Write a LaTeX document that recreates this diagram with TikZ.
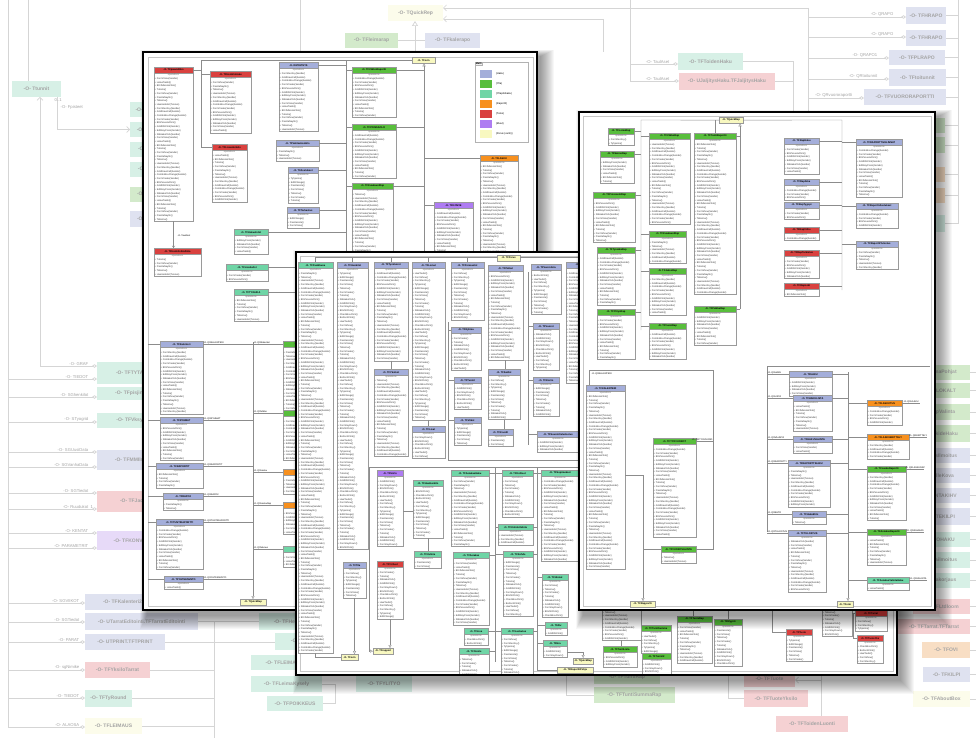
\documentclass[tikz,border=0pt]{standalone}
\usepackage{fontspec}
\setmainfont{Liberation Sans}
\usetikzlibrary{arrows.meta}

% class header colours
\definecolor{lav}{HTML}{A4AEDA}
\definecolor{grn}{HTML}{58BE3C}
\definecolor{mnt}{HTML}{6FD5A6}
\definecolor{org}{HTML}{F7901E}
\definecolor{rd}{HTML}{D9413F}
\definecolor{pur}{HTML}{AE7CF2}
\definecolor{yel}{HTML}{F8F8C0}
\definecolor{clsedge}{HTML}{9A9A9A}
\definecolor{clin}{HTML}{8C8C8C}
% faded colours of the large overview diagram
\definecolor{bmnt}{HTML}{D7F0E6}
\definecolor{bgrn}{HTML}{D3EACB}
\definecolor{blav}{HTML}{DFE2F0}
\definecolor{bpink}{HTML}{F5D1D3}
\definecolor{borg}{HTML}{F8DEC4}
\definecolor{bpur}{HTML}{E7DAF8}
\definecolor{byel}{HTML}{FCFCEB}
\definecolor{bgline}{HTML}{D5D5D5}
\definecolor{bgtext}{HTML}{A4A4A4}

\tikzset{
  bgbox/.style={inner sep=0pt, outer sep=0pt, anchor=north west, text=bgtext,
    font=\fontsize{5}{6}\selectfont\bfseries},
  bgl/.style={draw=bgline, line width=0.7pt},
  bgd/.style={bgl, -{Diamond[open, length=5pt, width=3.5pt]}},
  bgv/.style={bgl, -{Straight Barb[length=3pt, width=6pt]}},
  bglab/.style={text=bgtext, font=\fontsize{4.2}{5}\selectfont, inner sep=0.5pt},
  clshead/.style={draw=clsedge, line width=0.3pt, inner sep=0pt, outer sep=0pt,
    minimum height=6.5pt, font=\fontsize{2.5}{3}\selectfont\bfseries, anchor=north west},
  clsbody/.style={draw=clsedge, line width=0.3pt, fill=white, inner xsep=0pt,
    inner ysep=0.6pt, outer sep=0pt, text=black!80,
    font=\fontsize{2.4}{3.7}\selectfont, anchor=north west},
  ybox/.style={draw=clsedge, fill=yel, inner sep=0pt, line width=0.3pt,
    minimum height=6pt, font=\fontsize{2.5}{3}\selectfont\bfseries, anchor=north west},
  cl/.style={draw=clin, line width=0.35pt},
  inh/.style={cl, -{Triangle[open, length=3pt, width=3pt]}},
  clab/.style={font=\fontsize{2.3}{3}\selectfont, inner sep=0.3pt},
  panel/.style={draw=black, line width=2.4pt, fill=white, inner sep=0pt,
    outer sep=0pt, anchor=north west},
  frame/.style={draw=black!22, line width=0.4pt},
}

% method names listed under "operations": 0-15 short, 16-31 long
\newcommand\opname[1]{\ifcase#1\relax
  +~FormShow()\or +~FormCreate()\or +~Button1Click()\or +~FormClose()\or
  +~BtnOKClick()\or +~EditChange()\or +~GridDblClick()\or +~FormDestroy()\or
  +~Tulosta()\or +~HaeTiedot()\or +~Tallenna()\or +~CheckBoxClick()\or
  +~PaivitaLista()\or +~FormKeyDown()\or +~Tyhjenna()\or +~SBHakuClick()\or
  +~FormShow(Sender)\or +~FormCreate(Sender)\or +~BtnTallennaClick()\or
  +~GridDrawCell(Sender)\or +~FormClose(Sender)\or +~HaeHenkilot(Tunnus)\or
  +~EditKeyPress(Sender)\or +~PaivitaNaytto()\or +~BtnPeruutaClick()\or
  +~Tulosta()\or +~ComboBoxChange(Sender)\or +~LataaTiedot()\or
  +~FormDestroy(Sender)\or +~SBHakuClick(Sender)\or +~Tallenna()\or
  +~GridDblClick(Sender)\fi}

% body of a class box: the "operations" caption and #1 method lines
\newcommand\oplist[3]{\parindent=0pt\parskip=0pt\centering
  {\color{black!60}operations}\par\raggedright
  \foreach \ii in {1,...,#1}{%
    \pgfmathtruncatemacro\kk{mod(\ii*7+#2,16)+ifthenelse(#3>33,16,0)}%
    \hspace*{0.7pt}\opname{\kk}\par}}

% class box: name, x, y, width, lines, colour, title
\newcommand\cls[7]{%
  \node[clshead, fill=#6, minimum width=#4pt] (#1) at (#2,#3) {#7};
  \node[clsbody, text width=#4pt] (#1o) at (#1.south west) {\oplist{#5}{#2+#3}{#4}};}

% faded box of the overview diagram: name, x1, y1, x2, y2, colour, text
\newcommand\bgb[7]{%
  \pgfmathsetmacro\bw{#4-#2}\pgfmathsetmacro\bh{#5-#3}%
  \node[bgbox, fill=#6, minimum width=\bw pt, minimum height=\bh pt] (#1) at (#2,#3) {#7};}

% soft shadow falling to the lower right of a screenshot
\newcommand\pshade[4]{\foreach \kk in {1,...,14}{%
  \fill[black, opacity=0.032] ({#1+4-0.5*\kk},{#2+5-0.5*\kk}) rectangle ({#3+3+\kk},{#4+5+\kk});}}

\begin{document}
\begin{tikzpicture}[x=1pt, y=-1pt]
\useasboundingbox (0,0) rectangle (976,738);
\fill[white] (0,0) rectangle (976,738);

%================ overview diagram (background) ================
\bgb{bTtunnit}{12}{81}{61}{97}{bmnt}{-O- Ttunnit}
\bgb{bA1}{130}{102}{178}{117}{bmnt}{-O- TFHakulista}
\bgb{bA2}{130}{122}{178}{137}{bmnt}{-O- TFHenkilot}
\bgb{bA3}{130}{142}{178}{157}{bmnt}{-O- TFTyoajat}
\bgb{bA4}{130}{162}{178}{177}{bmnt}{-O- TFSijaiset}
\bgb{bA5}{130}{187}{178}{202}{bgrn}{-O- TFRaportit}
\bgb{bA6}{130}{211}{178}{227}{blav}{-O- TFValinnat}
\bgb{bTQR}{388}{5}{443}{21}{byel}{-O- TQuickRep}
\bgb{bLeima}{345}{33}{398}{48}{bgrn}{-O- TFleimarap}
\bgb{bKale}{425}{33}{480}{48}{blav}{-O- TFkalerapo}
\bgb{bToid}{678}{53}{743}{70}{bmnt}{-O- TFToidenHaku}
\bgb{bJalj}{679}{73}{775}{90}{bpink}{-O- UJaljitysHaku.TFJaljitysHaku}
\bgb{bHR1}{906}{7}{946}{24}{blav}{-O- TFHRAPO}
\bgb{bHR2}{906}{30}{946}{46}{blav}{-O- TFHRAPO}
\bgb{bPL}{889}{50}{945}{65}{blav}{-O- TFPLRAPO}
\bgb{bTT}{889}{69}{946}{86}{blav}{-O- TFtoitunnit}
\bgb{bVR}{864}{89}{946}{105}{blav}{-O- TFVUORORAPORTTI}
\bgb{bR1}{880}{118}{945}{133}{bgrn}{-O- TFLomaRap}
\bgb{bR2}{880}{137}{945}{153}{bgrn}{-O- TFSairasRap}
\bgb{bR3}{880}{167}{945}{182}{borg}{-O- TFVUOSILOMA}
\bgb{bR4}{880}{188}{945}{203}{borg}{-O- TFPALKKA}
\bgb{bR5}{880}{215}{945}{232}{bmnt}{-O- TFTyoVuoro}
\bgb{bS1}{900}{365}{970}{380}{bgrn}{-O- TFLomaPohjat}
\bgb{bS2}{900}{383}{970}{398}{bgrn}{-O- TFPOLOKALT}
\bgb{bS3}{900}{404}{970}{420}{bgrn}{-O- TFRapValinta}
\bgb{bS4}{900}{425}{970}{442}{bgrn}{-O- TFMerkideHaku}
\bgb{bS5}{900}{448}{970}{463}{blav}{-O- TFPoisIlmoitus}
\bgb{bS6}{900}{468}{970}{483}{blav}{-O- TFTalleKova}
\bgb{bS7}{900}{488}{970}{503}{blav}{-O- TFKENTAKIHV}
\bgb{bS8}{900}{508}{970}{525}{blav}{-O- TFPLTEKILPI}
\bgb{bS9}{900}{532}{970}{547}{bmnt}{-O- TFTYOHAKU}
\bgb{bS10}{900}{552}{970}{568}{bmnt}{-O- TFVikailmoitus}
\bgb{bS11}{900}{573}{970}{588}{bmnt}{-O- TFVikakorjaus}
\bgb{bS12}{913}{599}{970}{614}{bpink}{-O- TFLtdloom}
\bgb{bS13}{898}{619}{970}{634}{bpink}{-O- TFTarrat.TFTarrat}
\bgb{bS14}{922}{642}{970}{658}{borg}{-O- TFOVI}
\bgb{bS15}{923}{667}{970}{682}{blav}{-O- TFKILPI}
\bgb{bS16}{913}{691}{970}{707}{byel}{-O- TFAboutBox}
\bgb{bTYT}{97}{362}{175}{384}{bmnt}{-O- TFTYTARIFFI}
\bgb{bPIS}{97}{387}{175}{400}{bmnt}{-O- TFpisjinlisays}
\bgb{bVKS}{97}{413}{175}{428}{bmnt}{-O- TFVksylinkki}
\bgb{bMMI}{97}{450}{175}{470}{blav}{-O- TFMMIlmoitus}
\bgb{bJAQ}{97}{491}{175}{512}{bpink}{-O- TFJaqitys}
\bgb{bKON}{97}{531}{175}{550}{bpur}{-O- TFKONVERSIO}
\bgb{bKAL}{85}{594}{160}{610}{blav}{-O- TFKalenteri2}
\bgb{bUTE}{85}{613}{198}{630}{blav}{-O- UTarratEditointi.TFTarratEditointi}
\bgb{bUTP}{85}{634}{165}{650}{blav}{-O- UTPRINT.TFTPRINT}
\bgb{bYKS}{85}{662}{150}{678}{bpink}{-O- TFYksiloTarrat}
\bgb{bTYR}{85}{690}{132}{707}{bmnt}{-O- TFTyRound}
\bgb{bLEI}{85}{718}{142}{734}{byel}{-O- TFLEIMAUS}
\bgb{bHEN}{259}{613}{335}{630}{bmnt}{-O- TFHenkilotiedot}
\bgb{bTL}{275}{633}{340}{650}{bmnt}{-O- TFTyolista}
\bgb{bLKY}{251}{655}{330}{670}{bmnt}{-O- TFLEIMAKYSELY}
\bgb{bLK}{251}{676}{322}{692}{bmnt}{-O- TFLeimaKysely}
\bgb{bPOI}{267}{696}{323}{711}{bmnt}{-O- TFPOIKKEUS}
\bgb{bYLI}{356}{676}{412}{692}{bmnt}{-O- TFYLITYO}
\bgb{bTR}{594}{671}{660}{684}{bgrn}{-O- TFTuntiRap}
\bgb{bTSR}{594}{687}{675}{703}{bgrn}{-O- TFTuntiSummaRap}
\bgb{bTUO}{744}{671}{795}{687}{bpink}{-O- TFTuote}
\bgb{bTY}{744}{690}{808}{707}{bpink}{-O- TFTuoteYksilo}
\bgb{bTLU}{776}{716}{848}{732}{bpink}{-O- TFToidenLuonti}

% left trunk and its aggregations
\draw[bgl] (8,0) -- (8,727);
\draw[bgl] (28,0) -- (bTtunnit.north -| 28,0);
\draw[bgv] (40,366) -- (bTtunnit.south -| 40,0);
\draw[bgd] (40,366) -- (bTYT.west |- 0,366);
\node[bglab, anchor=south east] (lGRAF) at (89,366) {-O- GRAF};
\draw[bgv] (bTtunnit.south -| 57,0) |- (bA2.west);
\node[bglab, anchor=north west] (lMul) at (54,98) {0..1};
\node[bglab, anchor=north west] (lFp) at (60,105) {-O- Fpisteet};
\foreach \yy/\lab/\tgt/\lx [count=\jj] in {379/TIEDOT/bTYT/89, 397/SGhenkilot/bPIS/89,
    422/STyogrid/bVKS/89, 452/SGUusiData/bMMI/89, 467/SGVanhaData/bMMI/89,
    493/SGTiedot/bJAQ/89, 509/Ruudukot/bJAQ/89, 533/KENTAT/bKON/89,
    548/PARAMETRIT/bKON/89, 603/SGVIIKOT/bKAL/80, 622/SGTiedot/bUTE/80,
    642/PARAT/bUTP/80, 670/sgNimike/bYKS/80, 698/TIEDOT/bTYR/80, 727/ALAOSA/bLEI/80}{
  \draw[bgd] (8,\yy) -- (\tgt.west |- 0,\yy);
  \node[bglab, anchor=south east] (lL\jj) at (\lx,\yy) {-O- \lab};
}
\node[bglab, anchor=south west] (lOne) at (90,509) {1};

% top: TQuickRep and report forms
\draw[bgv] (808,8) -- (bTQR.east |- 0,8);
\draw[bgv] (603,19) -- (bTQR.east |- 0,19);
\draw[bgl] (603,19) -- (603,52);
\draw[bgl] (808,8) -- (808,112);
\draw[bgl, -{Triangle[open, length=5pt, width=6pt]}] (415,52) -- (bTQR.south -| 415,0);
\draw[bgl] (bLeima.east) -- (bKale.west);
\draw[bgl] (300,0) -- (300,52);
\draw[bgl] (630,0) -- (630,81);
\draw[bgd] (630,64) -- (bToid.west |- 0,64);
\draw[bgd] (630,81) -- (bJalj.west |- 0,81);
\node[bglab, anchor=south east] (lTA1) at (670,64) {-O- TaulAset};
\node[bglab, anchor=south east] (lTA2) at (670,81) {-O- TaulAset};
\draw[bgl] (bToid.east) -| (793,112);
\draw[bgl] (bJalj.east) -- (bJalj.east -| 793,0);
\foreach \yy/\lab/\tgt/\lx [count=\jj] in {17/QRAPO/bHR1/894, 37/QRAPO/bHR2/894,
    58/QRAPO1/bPL/878, 79/QRtoitunnit/bTT/878, 98/QRvuororaportti/bVR/853}{
  \draw[bgd] (808,\yy) -- (\tgt.west |- 0,\yy);
  \node[bglab, anchor=south east] (lQ\jj) at (\lx,\yy) {-O- \lab};
}
\draw[bgl] (958,0) -- (958,224);
\foreach \bb in {bHR1,bHR2,bPL,bTT,bVR,bR1,bR2,bR3,bR4,bR5}{\draw[bgl] (\bb.east) -- (\bb.east -| 958,0);}
\foreach \bb in {bS1,bS2,bS3,bS4,bS5,bS6,bS7,bS8,bS9,bS10,bS11,bS12,bS13,bS14,bS15,bS16}{\draw[bgl] (\bb.east) -- ++(6,0);}

% bottom connectors
\draw[bgl] (214,622) -- (214,738);
\draw[bgl] (bUTE.east) -- (bUTE.east -| bHEN.west);
\draw[bgl] (bUTP.east) -- (bUTP.east -| bTL.west);
\foreach \bb in {bYKS,bTYR,bLEI}{\draw[bgl] (\bb.east) -- (\bb.east -| 214,0);}
\draw[bgl] (bLK.east) -- ++(13,0) |- (bPOI.east);
\draw[bgl] (566,672) |- (bTSR.west);
\draw[bgl] (728,672) |- (bTY.west);
\draw[bgl] (821,672) -- (bTLU.north -| 821,0);
\draw[bgv] (821,680) -- (bTUO.east |- 0,680);

%================ screenshot 1 (upper left) ================
\pshade{143}{52}{537}{610}
\node[panel, minimum width=394pt, minimum height=558pt] (pan1) at (143,52) {};
\begin{scope}
\clip (145,54) rectangle (535,608);
\draw[frame] (148,57) rectangle (533,606);
\node[ybox, minimum width=23pt] (p1form) at (412,57) {-O- TForm};
\cls{p1a}{154}{67}{39}{39}{rd}{-O- TFpaavalikko}
\cls{p1b}{210}{71}{41}{14}{rd}{-O- TFHenkiloHaku}
\cls{p1c}{212}{144}{35}{13}{rd}{-O- TFLisaaHenkilo}
\cls{p1d}{279}{62}{39}{16}{lav}{-O- DMYHTEYS}
\cls{p1e}{276}{140}{43}{3}{lav}{-O- TFValitseHenkilo}
\cls{p1f}{288}{167}{30}{7}{lav}{-O- TFAsetukset}
\cls{p1g}{287}{207}{32}{3}{lav}{-O- TFTarkastus}
\cls{p1h}{352}{67}{44}{11}{grn}{-O- TFViikkoRaportti}
\cls{p1i}{352}{124}{44}{12}{grn}{-O- TFPOISSAOLO}
\cls{p1j}{352}{183}{41}{20}{grn}{-O- TFKuukausiRap}
\cls{p1k}{480}{155}{38}{26}{org}{-O- TFLASKU}
\cls{p1l}{434}{202}{39}{14}{pur}{-O- TFKONVE}
\cls{p1m}{234}{229}{34}{4}{mnt}{-O- TFHakuehdot}
\cls{p1n}{226}{264}{42}{2}{mnt}{-O- TFLisatiedot}
\cls{p1o}{234}{289}{34}{6}{mnt}{-O- TFTYOAIKA}
\cls{p1p}{154}{248}{47}{5}{rd}{-O- TFHenkilotHallinta}
\cls{p1q}{160}{341}{43}{17}{lav}{-O- TFKalenteri}
\cls{p1r}{160}{417}{43}{9}{lav}{-O- TFRYHMAT}
\cls{p1s}{156}{463}{47}{4}{lav}{-O- TFRAPORTIT}
\cls{p1t}{163}{493}{40}{2}{lav}{-O- TFRAPO2}
\cls{p1u}{156}{519}{47}{11}{lav}{-O- TFTUNTIRAPORTTI}
\cls{p1v}{164}{576}{39}{1}{lav}{-O- TFYHTEENVETO}
\cls{p1w}{283}{341}{46}{16}{grn}{-O- TFKalenteriRap}
\cls{p1x}{283}{410}{46}{11}{grn}{-O- TFViikkoLista}
\cls{p1y}{283}{469}{46}{4}{org}{-O- TFLaskuLista}
\cls{p1z}{283}{502}{46}{6}{org}{-O- TFLaskuRap}
\cls{p1aa}{283}{546}{46}{3}{mnt}{-O- TFVaraus}
\node[ybox, minimum width=26pt] (p1qr) at (240,599) {-O- TQuickRep};
% legend
\node[draw=black!30, fill=white, line width=0.3pt, minimum width=53pt, minimum height=80pt,
  anchor=north west, inner sep=0pt] (lgd) at (475,62) {};
\node[font=\fontsize{2.6}{3}\selectfont\bfseries, anchor=north west, inner sep=0.6pt,
  draw=black!30, line width=0.3pt, fill=black!6] (lgdt) at (lgd.north west) {Malli};
\foreach \cc/\tx [count=\jj] in {lav/(Haku), grn/(Ylla), mnt/(Yllapitohaku), org/(Raportit),
    rd/(Tulos), pur/(Muut), yel/(Perus (vanh))}{
  \node[fill=\cc, minimum width=12pt, minimum height=8pt, inner sep=0pt, anchor=north west]
    (lgs\jj) at (480,{70+10*(\jj-1)}) {};
  \node[anchor=west, font=\fontsize{2.6}{3}\selectfont, inner sep=0.5pt]
    (lgl\jj) at ([xshift=3pt]lgs\jj.east) {\tx};
}
% connectors
\draw[cl] (p1form.west) -- ++(-211,0) |- (p1c.west);
\draw[cl] (p1a.east) -- ++(8,0) |- (p1b.west);
\coordinate (p1v1) at (346,61);
\coordinate (p1v1e) at (346,252);
\draw[cl] (p1v1) -- (p1v1e);
\foreach \nm in {p1d,p1e,p1f,p1g,p1m,p1n,p1o}{\draw[cl] (\nm.east) -- (\nm.east -| p1v1);}
\foreach \nm in {p1h,p1i,p1j}{\draw[cl] (\nm.west -| p1v1) -- (\nm.west);}
\coordinate (p1v2) at (424,252);
\draw[inh] (p1v2) -- (p1v2 |- p1form.south);
\foreach \nm in {p1h,p1i,p1j}{\draw[cl] (\nm.east) -- (\nm.east -| p1v2);}
\foreach \nm in {p1k,p1l}{\draw[cl] (\nm.west -| p1v2) -- (\nm.west);}
\draw[cl, -{Straight Barb[length=2pt, width=3pt]}] (p1ao.south) -- (p1ao.south |- p1p.north);
\node[clab, anchor=west] (p1tl) at (177,236) {-O- TaulAset};
\foreach \nm in {p1q,p1r,p1s,p1t,p1u,p1v}{\draw[cl] (\nm.west -| 148,0) -- (\nm.west);}
\coordinate (p1v3) at (253,342);
\draw[inh] (p1v3) -- (p1v3 |- p1qr.north);
\foreach \nm/\tx in {p1q/QRKALENTERI, p1r/QRRYHMAT, p1s/QRRAPORTIT, p1t/QRRAPO2,
    p1u/QRTUNTIRAPORTTI, p1v/QRYHTEENVETO}{
  \draw[cl] (\nm.east) -- (\nm.east -| p1v3);
  \node[clab, anchor=south west] (m\nm) at (\nm.east) {-O- \tx};
}
\foreach \nm/\tx in {p1w/QRKalenteri, p1x/QRViikko, p1y/QRLasku, p1z/QRLaskuRap, p1aa/QRVaraus}{
  \draw[cl] (\nm.west -| p1v3) -- (\nm.west);
  \node[clab, anchor=south west] (m\nm) at (\nm.west -| p1v3) {-O- \tx};
}
\end{scope}

%================ screenshot 2 (centre) ================
\pshade{296}{252}{897}{675}
\node[panel, minimum width=601pt, minimum height=423pt] (pan2) at (296,252) {};
\begin{scope}
\clip (298,254) rectangle (895,673);
\draw[frame] (300,256) rectangle (893,671);
\cls{qc1}{298}{262}{35}{103}{mnt}{-O- TFPaaIkkuna}
\cls{qc2}{337}{262}{31}{75}{lav}{-O- TFHenkilot}
\cls{qc3}{374}{262}{34}{24}{lav}{-O- TFTyoVuorot}
\cls{qc4}{412}{262}{33}{40}{lav}{-O- TFLomat}
\cls{qc5}{451}{262}{33}{13}{lav}{-O- TFPoissaolot}
\cls{qc6}{488}{265}{35}{23}{lav}{-O- TFPalkat}
\cls{qc7}{531}{264}{30}{11}{lav}{-O- TFVuorolista}
\cls{qc8}{566}{262}{40}{30}{lav}{-O- TFSijaisuudet}
\cls{qc3b}{374}{369}{34}{21}{lav}{-O- TFYksikot}
\cls{qc5b}{451}{327}{30}{9}{lav}{-O- TFRyhma}
\cls{qc5c}{454}{377}{27}{6}{lav}{-O- TFTunnit}
\cls{qc5d}{454}{417}{27}{5}{lav}{-O- TFViikot}
\cls{qc4b}{412}{426}{33}{6}{lav}{-O- TFLisat}
\cls{qc6b}{488}{369}{32}{11}{lav}{-O- TFSaldot}
\cls{qc6c}{488}{429}{25}{2}{lav}{-O- TFKoodit}
\cls{qc7b}{533}{323}{26}{10}{lav}{-O- TFVuorot}
\cls{qc7c}{533}{377}{26}{8}{lav}{-O- TFKierto}
\cls{qc7d}{537}{431}{42}{3}{lav}{-O- TFSuunnitteluAsetus}
\cls{qd1}{377}{470}{26}{18}{pur}{-O- TFSiirto}
\cls{qd2}{413}{480}{30}{13}{mnt}{-O- TFHaeHenkilo}
\cls{qd3}{414}{551}{27}{2}{mnt}{-O- TFValinta}
\cls{qd4}{343}{562}{23}{7}{lav}{-O- TFTila}
\cls{qd5}{377}{561}{26}{13}{rd}{-O- TFVirheet}
\cls{qd6}{451}{470}{38}{18}{mnt}{-O- TFAsiakasHaku}
\cls{qd7}{453}{552}{36}{17}{mnt}{-O- TFAsiakas}
\cls{qd8}{464}{628}{24}{2}{mnt}{-O- TFLisa}
\cls{qd9}{459}{648}{30}{6}{mnt}{-O- TFOsoite}
\cls{qd10}{502}{470}{31}{10}{mnt}{-O- TFKohteet}
\cls{qd11}{498}{524}{35}{3}{mnt}{-O- TFKohdeValinta}
\cls{qd12}{503}{551}{30}{15}{mnt}{-O- TFKohde}
\cls{qd13}{501}{628}{32}{10}{mnt}{-O- TFLaskutus}
\cls{qd14}{541}{470}{38}{22}{mnt}{-O- TFSopimukset}
\cls{qd15}{542}{574}{26}{9}{mnt}{-O- TFHinnat}
\cls{qd16}{545}{622}{22}{1}{mnt}{-O- TFAlv}
\cls{qd17}{543}{640}{24}{2}{mnt}{-O- TFEra}
\cls{qe1}{602}{560}{39}{19}{lav}{-O- TFTuntiHaku}
\cls{qe2}{603}{646}{34}{3}{grn}{-O- TFTuntiLista}
\cls{qe3}{641}{625}{30}{5}{grn}{-O- TFTuntiSumma}
\cls{qe4}{642}{653}{29}{4}{grn}{-O- TFTunnit2}
\cls{qe5}{676}{560}{34}{11}{lav}{-O- TFTuoteHaku}
\cls{qe5b}{714}{560}{29}{11}{lav}{-O- TFMyyntiHaku}
\cls{qe6}{677}{616}{35}{10}{grn}{-O- TFTuoteRap}
\cls{qe7}{714}{619}{28}{10}{grn}{-O- TFMyynti}
\cls{qe8}{786}{629}{26}{6}{rd}{-O- TFTuote}
\cls{qe9}{822}{560}{30}{18}{lav}{-O- TFTarraHaku}
\cls{qe10}{855}{610}{32}{3}{rd}{-O- TFTarrat}
\cls{qe11}{857}{635}{26}{5}{rd}{-O- TFTuoteYks}
\node[ybox, minimum width=23pt] (qbase) at (497,254.5) {-O- TFPerus};
\node[ybox, minimum width=17pt] (qfrm) at (341,654) {-O- TForm};
\node[ybox, minimum width=20pt] (qrap) at (373,648) {-O- TFrapport};
\node[ybox, minimum width=20pt] (qqr) at (573,658) {-O- TQuickRep};
\node[ybox, minimum width=36pt] (qrp) at (557,667) {-O- TFRaporttiPohja};
% connectors
\draw[cl] (qc1.north) |- (qbase.west);
\foreach \nm in {qc2,qc3,qc4,qc5}{\draw[cl] (\nm.north) -- (\nm.north |- qbase.west);}
\draw[cl] (qbase.east) -| (qc8.north);
\draw[cl] (qc3o.south) -- (qc3o.south |- qc3b.north);
\draw[cl] (qc4o.south) -- (qc4o.south |- qc4b.north);
\draw[cl] (qc6o.south) -- (qc6o.south |- qc6b.north);
\draw[cl] (qc6bo.south) -- (qc6bo.south |- qc6c.north);
\coordinate (qv1) at (448,322);
\coordinate (qv1e) at (448,460);
\coordinate (qh1e) at (580,460);
\draw[cl] (qv1) -- (qv1e) -- (qh1e);
\foreach \nm in {qc5b,qc5c,qc5d}{\draw[cl] (\nm.west -| qv1) -- (\nm.west);}
\coordinate (qv2) at (528,272);
\coordinate (qv2e) at (528,445);
\draw[cl] (qv2) -- (qv2e);
\foreach \nm in {qc7b,qc7c,qc7d}{\draw[cl] (\nm.west -| qv2) -- (\nm.west);}
\coordinate (qh2) at (369,467);
\coordinate (qh2e) at (580,467);
\draw[cl] (qh2) -- (qh2e);
\draw[inh] (qh2) |- (qrap.west);
\draw[cl] (qd1o.east) -- (qd1o.east -| qd2.west);
\draw[cl] (qd2o.south) -- (qd2o.south |- qd3.north);
\draw[inh] (qd4o.south) -- (qd4o.south |- qfrm.north);
\draw[cl] (qc1o.south) |- (qfrm.west);
\draw[inh] (qd5o.south) -- (qd5o.south |- qrap.north);
\coordinate (qv3) at (495,467);
\coordinate (qv3e) at (495,662);
\draw[cl] (qv3) -- (qv3e);
\foreach \nm in {qd6,qd7,qd8,qd9}{\draw[cl] (\nm.east) -- (\nm.east -| qv3);}
\foreach \nm in {qd10,qd11,qd12,qd13}{\draw[cl] (\nm.west -| qv3) -- (\nm.west);}
\coordinate (qv4) at (537,467);
\coordinate (qv4e) at (537,655);
\draw[cl] (qv4) -- (qv4e);
\foreach \nm in {qd10,qd11,qd12,qd13}{\draw[cl] (\nm.east) -- (\nm.east -| qv4);}
\foreach \nm in {qd14,qd15,qd16,qd17}{\draw[cl] (\nm.west -| qv4) -- (\nm.west);}
\draw[inh] (qd17o.east) -| (qqr.north);
\draw[cl] (qv4e) |- (qrp.west);
\draw[cl] (qe1o.south) -- (qe1o.south |- qe2.north);
\draw[cl] (qe3o.south) -- (qe3o.south |- qe4.north);
\draw[cl] (qe5o.south) -- (qe5o.south |- qe6.north);
\draw[cl] (qe5bo.south) -- (qe5bo.south |- qe7.north);
\draw[cl] (qe8.west) -- ++(-14,0) -- ++(0,-30);
\draw[cl] (qe9o.east |- qe10.west) -- (qe10.west);
\draw[cl] ([xshift=-2pt]qe10.west) |- (qe11.west);
\end{scope}

%================ screenshot 3 (right) ================
\pshade{579}{112}{935}{610}
\node[panel, minimum width=356pt, minimum height=498pt] (pan3) at (579,112) {};
\begin{scope}
\clip (581,114) rectangle (933,608);
\draw[frame] (583,116) rectangle (931,606);
\cls{rG1}{608}{128}{26}{2}{grn}{-O- TFLomaRap}
\cls{rG2}{600}{151}{34}{6}{grn}{-O- TFSairasRap}
\cls{rG3}{593}{192}{42}{11}{grn}{-O- TFPoissaoloRap}
\cls{rG4}{597}{247}{38}{13}{grn}{-O- TFTyoaikaRap}
\cls{rG5}{597}{309}{38}{11}{grn}{-O- TFYlityoRap}
\cls{rG6}{649}{133}{41}{22}{grn}{-O- TFViikkoRap}
\cls{rG7}{649}{231}{37}{6}{grn}{-O- TFKuukausiRap}
\cls{rG8}{649}{268}{37}{10}{grn}{-O- TFJaksoRap}
\cls{rG9}{649}{323}{37}{7}{grn}{-O- TFVuosiRap}
\cls{rG10}{694}{133}{42}{41}{grn}{-O- TFTuntiRaportti}
\cls{rG11}{694}{306}{42}{8}{grn}{-O- TFPalkkaRap}
\cls{rL1}{784}{138}{35}{7}{lav}{-O- TFRapHaku}
\cls{rL2}{784}{179}{35}{3}{lav}{-O- TFRapAika}
\cls{rL3}{784}{202}{35}{2}{lav}{-O- TFRapTyyppi}
\cls{rR1}{784}{227}{35}{1}{rd}{-O- TFRapVirhe}
\cls{rR2}{784}{250}{35}{5}{rd}{-O- TFRapTarkistus}
\cls{rR3}{784}{283}{35}{1}{rd}{-O- TFRapLoki}
\cls{rL4}{856}{139}{46}{13}{lav}{-O- TFRAPORTTIVALINNAT}
\cls{rL5}{856}{203}{42}{4}{lav}{-O- TFRaporttiAsetukset}
\cls{rL6}{856}{241}{42}{5}{lav}{-O- TFRaporttiTulostus}
\cls{rB1}{586}{385}{39}{47}{lav}{-O- TFKALENTERI}
\cls{rB2}{653}{438}{43}{24}{grn}{-O- TFTYOVUOROT}
\cls{rB3}{661}{546}{35}{2}{grn}{-O- TFVUOROVALINTA}
\cls{rC1}{789}{371}{43}{4}{lav}{-O- TFHAKU}
\cls{rC2}{793}{395}{39}{7}{lav}{-O- TFHAKULISTA}
\cls{rC3}{793}{436}{39}{2}{lav}{-O- TFHAKUVALINTA}
\cls{rC4}{788}{460}{42}{10}{lav}{-O- TFRAPORTTIHAKU}
\cls{rC5}{792}{511}{34}{1}{lav}{-O- TFHakuEhto}
\cls{rC6}{788}{530}{38}{14}{lav}{-O- TFTULOSTUS}
\cls{rO1}{867}{400}{35}{4}{org}{-O- TFLASKUTUS}
\cls{rO2}{867}{434}{42}{4}{org}{-O- TFLASKUERITTELY}
\cls{rM1}{867}{466}{39}{12}{grn}{-O- TFLaskuRaportti}
\cls{rM2}{867}{529}{39}{7}{grn}{-O- TFAsiakasRaportti}
\cls{rM3}{867}{577}{42}{1}{mnt}{-O- TFAsiakasValintaHaku}
\node[ybox, minimum width=24pt] (rqr) at (719,117) {-O- TQuickRep};
\node[ybox, minimum width=25pt] (rrap) at (630,601) {-O- TFRapportti};
\node[ybox, minimum width=16pt] (rfrm) at (837,601) {-O- TForm};
% connectors
\coordinate (rb1) at (641,120);
\coordinate (rb1e) at (641,330);
\draw[cl] (rqr.west) -- (rb1) -- (rb1e);
\foreach \nm in {rG1,rG2,rG3,rG4,rG5}{\draw[cl] (\nm.east) -- (\nm.east -| rb1);}
\foreach \nm in {rG6,rG7,rG8,rG9}{\draw[cl] (\nm.west -| rb1) -- (\nm.west);}
\draw[cl] (rG10.north) -- (rG10.north |- rqr.west);
\coordinate (rb2) at (740,309);
\draw[inh] (rb2) -- (rb2 |- rqr.south);
\draw[cl] (rG11.east) -- (rG11.east -| rb2);
\draw[cl] (rG10.east) -- (rG10.east -| rb2);
\coordinate (rb3) at (842,120);
\coordinate (rb3e) at (842,290);
\draw[cl] (rqr.east) -- (rb3) -- (rb3e);
\foreach \nm in {rL1,rL2,rL3,rR1,rR2,rR3}{\draw[cl] (\nm.east) -- (\nm.east -| rb3);}
\foreach \nm in {rL4,rL5,rL6}{\draw[cl] (\nm.west -| rb3) -- (\nm.west);}
\coordinate (rc1) at (589,370);
\coordinate (rc2) at (713,370);
\coordinate (rc3) at (713,550);
\draw[cl] (rB1.north -| rc1) -- (rc1) -- (rc2) -- (rc3);
\node[clab, anchor=north west] (rcl) at (591,372) {-O- QRKALENTERI};
\draw[cl] (rB2.east) -- (rB2.east -| rc2);
\node[clab, anchor=south east] (rcl2) at (rB2.east -| rc2) {-O- QRTYOVUORO};
\draw[cl] (rB3.east) -- (rB3.east -| rc2);
\coordinate (rd1) at (643,475);
\draw[cl] (rB1o.east |- rd1) -- (rd1);
\draw[inh] (rd1) -- (rd1 |- rrap.north);
\draw[cl] (rB3.west) -- (rB3.west -| rd1);
\coordinate (re1) at (767,366);
\coordinate (re2) at (930,366);
\coordinate (re3) at (767,532);
\draw[cl] (re2) -- (re1) -- (re3);
\foreach \nm/\tx in {rC1/QRHAKU, rC2/QRLISTA, rC3/QRVALINTA, rC4/QRRAPORTTI, rC5/QREHTO, rC6/QRTULOSTUS}{
  \draw[cl] (\nm.west -| re1) -- (\nm.west);
  \node[clab, anchor=south west] (l\nm) at (\nm.west -| re1) {-O- \tx};
}
\coordinate (rf1) at (848,372);
\draw[inh] (rf1) -- (rf1 |- rfrm.north);
\foreach \nm in {rC1,rC2,rC3,rC4,rC5,rC6}{\draw[cl] (\nm.east) -- (\nm.east -| rf1);}
\foreach \nm in {rO1,rO2,rM1,rM2,rM3}{\draw[cl] (\nm.west -| rf1) -- (\nm.west);}
\foreach \nm/\tx in {rO1/QRLASKU, rO2/QRERITTELY, rM1/QRLASKURAP, rM2/QRASIAKAS, rM3/QRVALINTA}{
  \draw[cl] (\nm.east) -- ++(18,0) node[clab, pos=0.5, above] (k\nm) {-O- \tx};
}
\end{scope}
\end{tikzpicture}
\end{document}
